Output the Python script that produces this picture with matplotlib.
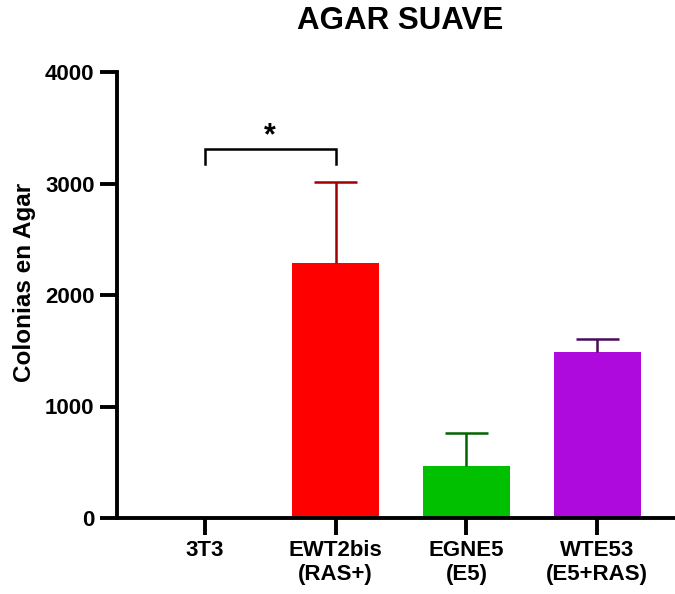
import matplotlib
matplotlib.use('Agg')
import matplotlib.pyplot as plt

# values
categories = ['3T3', 'EWT2bis\n(RAS+)', 'EGNE5\n(E5)', 'WTE53\n(E5+RAS)']
means = [0, 2287, 466, 1487]
errors = [0, 730, 300, 118]
bar_colors = ['#ff0000', '#ff0000', '#00c000', '#ae0ade']
err_colors = ['#a00000', '#a00000', '#006400', '#4b0a5a']
yticks = [0, 1000, 2000, 3000, 4000]
bracket_pair = (0, 1)
bracket_low, bracket_high = 3175, 3312

plt.rcParams['font.family'] = ['Liberation Sans', 'DejaVu Sans']
plt.rcParams['font.weight'] = 'bold'

fig = plt.figure(figsize=(6.75, 5.94), dpi=100)
ax = fig.add_axes([117 / 675, 76 / 594, 558 / 675, 446 / 594])

xs = list(range(len(categories)))
cap_half = 0.165
for x, m, e, c, ec in zip(xs, means, errors, bar_colors, err_colors):
    if m > 0:
        ax.bar(x, m, width=0.664, color=c, edgecolor='none', zorder=2)
        # upper-only error bar, Prism style
        ax.vlines(x, m, m + e, color=ec, lw=1.8, zorder=3)
        ax.hlines(m + e, x - cap_half, x + cap_half, color=ec, lw=1.8, zorder=3)

# significance bracket
x0, x1 = bracket_pair
ax.plot([x0, x0, x1, x1], [bracket_low, bracket_high, bracket_high, bracket_low],
        color='black', lw=1.8, solid_joinstyle='miter', clip_on=False)
ax.text((x0 + x1) / 2, 3420, '*', ha='center', va='center', fontsize=22,
        fontweight='bold')

ax.set_xlim(-0.672, 3.595)
ax.set_ylim(0, 4000)
ax.set_yticks(yticks)
ax.set_yticklabels([str(v) for v in yticks])
ax.set_xticks(xs)
ax.set_xticklabels(categories, linespacing=1.15)

for side in ['top', 'right']:
    ax.spines[side].set_visible(False)
for side in ['left', 'bottom']:
    ax.spines[side].set_linewidth(2.8)
ax.spines['bottom'].set_capstyle('butt')

ax.tick_params(axis='both', length=12.2, width=2.8, labelsize=16, pad=4)
ax.tick_params(axis='x', pad=4)
for lab in ax.get_xticklabels() + ax.get_yticklabels():
    lab.set_fontweight('bold')

fig.text(400 / 675, 1 - 21 / 594, 'AGAR SUAVE', ha='center', va='center',
         fontsize=22.5, fontweight='bold')
fig.text(25 / 675, 1 - 282 / 594, 'Colonias en Agar', ha='center', va='center',
         rotation=90, fontsize=17.5, fontweight='bold')

fig.savefig('out.png', dpi=100)
